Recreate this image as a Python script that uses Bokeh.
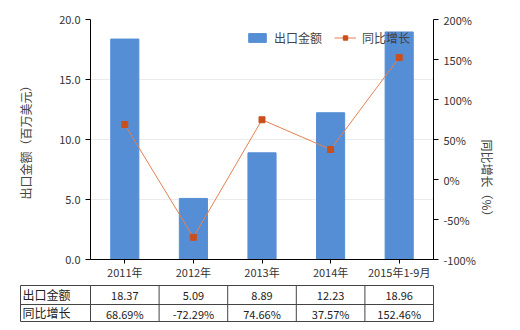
import math
from bokeh.plotting import figure
from bokeh.models import (Range1d, LinearAxis, FixedTicker, PrintfTickFormatter,
                          NumeralTickFormatter, Legend, LegendItem, ColumnDataSource, FactorRange)
from bokeh.layouts import column
from bokeh.embed import file_html
from bokeh.resources import INLINE
from bokeh.core.properties import value

categories = ["2011年", "2012年", "2013年", "2014年", "2015年1-9月"]
export_values = [18.37, 5.09, 8.89, 12.23, 18.96]
growth_values = [68.69, -72.29, 74.66, 37.57, 152.46]
export_labels = ["18.37", "5.09", "8.89", "12.23", "18.96"]
growth_labels = ["68.69%", "-72.29%", "74.66%", "37.57%", "152.46%"]
left_ticks = [0, 5, 10, 15, 20]
right_ticks = [-100, -50, 0, 50, 100, 150, 200]
row_names = ["出口金额", "同比增长"]

FONT = "Noto Sans CJK SC"
BAR_COLOR = "#558ED5"
LINE_COLOR = "#E58050"
MARK_COLOR = "#C9501C"

src = ColumnDataSource(dict(cat=categories, val=export_values, gr=growth_values))

p = figure(x_range=FactorRange(*categories, range_padding=0), y_range=Range1d(0, 20),
           frame_width=343, frame_height=240,
           min_border_left=90, min_border_right=87, min_border_top=19, min_border_bottom=21,
           output_backend="svg", toolbar_location=None, outline_line_color=None,
           background_fill_color="white")
p.extra_y_ranges = {"pct": Range1d(-100, 200)}

bars = p.vbar(x="cat", top="val", width=0.41, source=src, color=BAR_COLOR)
ln = p.line(x="cat", y="gr", source=src, y_range_name="pct", line_color=LINE_COLOR, line_width=1)
mk = p.scatter(x="cat", y="gr", source=src, y_range_name="pct", marker="square", size=6,
               fill_color=MARK_COLOR, line_color=MARK_COLOR)

# left axis
ya = p.yaxis[0]
ya.ticker = FixedTicker(ticks=left_ticks)
ya.formatter = NumeralTickFormatter(format="0.0")
ya.axis_label = "出口金额（百万美元）"
ya.axis_label_text_font = FONT
ya.axis_label_text_font_size = "12px"
ya.axis_label_text_font_style = "normal"
ya.axis_label_standoff = 22
ya.major_label_text_font = FONT
ya.major_label_text_font_size = "11px"
ya.major_label_text_color = "#333333"
ya.minor_tick_line_color = None
ya.major_tick_out = 5
ya.major_tick_in = 0
ya.axis_line_color = "black"
ya.major_tick_line_color = "black"

ra = LinearAxis(y_range_name="pct", ticker=FixedTicker(ticks=right_ticks),
                formatter=PrintfTickFormatter(format="%d%%"))
ra.axis_label = "同比增长（%）"
ra.axis_label_orientation = -math.pi / 2
ra.axis_label_text_font = FONT
ra.axis_label_text_font_size = "12px"
ra.axis_label_text_font_style = "normal"
ra.axis_label_standoff = 9
ra.major_label_text_font = FONT
ra.major_label_text_font_size = "11px"
ra.major_label_text_color = "#333333"
ra.minor_tick_line_color = None
ra.major_tick_out = 5
ra.major_tick_in = 0
ra.axis_line_color = "black"
ra.major_tick_line_color = "black"
p.add_layout(ra, "right")

xa = p.xaxis[0]
xa.major_label_text_font = FONT
xa.major_label_text_font_size = "11px"
xa.major_label_text_color = "#333333"
xa.major_tick_out = 4
xa.major_tick_in = 0
xa.axis_line_color = "black"
xa.major_tick_line_color = "black"
xa.major_label_standoff = 0

p.xgrid.grid_line_color = None
p.ygrid.grid_line_color = "#EBEBEB"
p.ygrid.ticker = FixedTicker(ticks=left_ticks)

legend = Legend(items=[LegendItem(label="出口金额", renderers=[bars]),
                       LegendItem(label="同比增长", renderers=[ln, mk])],
                orientation="horizontal", location=(156, 213),
                background_fill_alpha=0, border_line_color=None,
                glyph_width=22, glyph_height=11, label_standoff=6, spacing=12,
                padding=0, margin=0,
                label_text_font=FONT, label_text_font_size="12px")
p.add_layout(legend, "center")

# table
colw = 68.6
t = figure(x_range=Range1d(-90 / colw, 430 / colw), y_range=Range1d(50, 0),
           frame_width=520, frame_height=48, min_border=0,
           min_border_left=0, min_border_right=0, min_border_top=0, min_border_bottom=0,
           x_axis_location=None, y_axis_location=None,
           output_backend="svg", toolbar_location=None, outline_line_color=None)
t.y_range = Range1d(50, 2)
t.grid.visible = False

for fig in (p, t):
    if hasattr(fig, "frame_align"):
        fig.frame_align = False

left_edge = -70 / colw
n = len(categories)
hy = [5, 24, 41]
t.segment(x0=[left_edge] * 3, x1=[n] * 3, y0=hy, y1=hy, line_color="#444444", line_width=1)
vx = [left_edge] + list(range(n + 1))
t.segment(x0=vx, x1=vx, y0=[5] * len(vx), y1=[41] * len(vx), line_color="#444444", line_width=1)

xs = [i + 0.5 for i in range(n)]
t.text(x=xs, y=[15] * n, text=export_labels, text_align="center", text_baseline="middle",
       text_font=value(FONT), text_font_size="11px", text_color="#222222")
t.text(x=xs, y=[33] * n, text=growth_labels, text_align="center", text_baseline="middle",
       text_font=value(FONT), text_font_size="11px", text_color="#222222")
t.text(x=[left_edge + 2 / colw] * 2, y=[14, 32], text=row_names, text_align="left",
       text_baseline="middle", text_font=value(FONT), text_font_size="12px", text_color="#222222")

layout = column(p, t, spacing=0)
open("out.html", "w").write(file_html(layout, INLINE))
